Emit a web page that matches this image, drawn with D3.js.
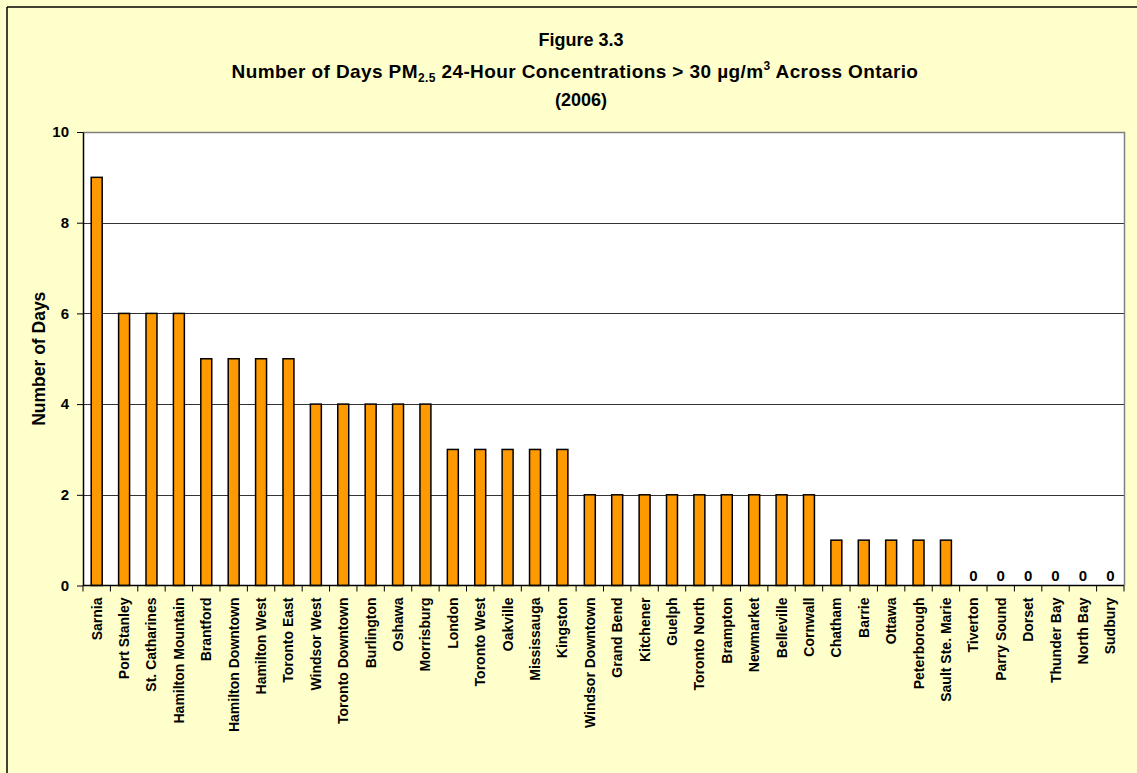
<!DOCTYPE html>
<html>
<head>
<meta charset="utf-8">
<script src="https://cdn.jsdelivr.net/npm/d3@7"></script>
<style>
  html, body { margin: 0; padding: 0; background: #FFFFCC; }
  svg { display: block; }
  text { font-family: "Liberation Sans", Arial, sans-serif; font-weight: bold; fill: #000; }
</style>
</head>
<body>
<svg id="chart" width="1137" height="773"></svg>
<script>
// Monitoring stations, ordered by number of exceedance days
const stations = [
  "Sarnia", "Port Stanley", "St. Catharines", "Hamilton Mountain", "Brantford",
  "Hamilton Downtown", "Hamilton West", "Toronto East", "Windsor West",
  "Toronto Downtown", "Burlington", "Oshawa", "Morrisburg", "London",
  "Toronto West", "Oakville", "Mississauga", "Kingston", "Windsor Downtown",
  "Grand Bend", "Kitchener", "Guelph", "Toronto North", "Brampton",
  "Newmarket", "Belleville", "Cornwall", "Chatham", "Barrie", "Ottawa",
  "Peterborough", "Sault Ste. Marie", "Tiverton", "Parry Sound", "Dorset",
  "Thunder Bay", "North Bay", "Sudbury"
];
// Days with PM2.5 24-hour concentration above 30 µg/m³ in 2006
const days = [
  9, 6, 6, 6, 5,
  5, 5, 5, 4,
  4, 4, 4, 4, 3,
  3, 3, 3, 3, 2,
  2, 2, 2, 2, 2,
  2, 2, 2, 1, 1, 1,
  1, 1, 0, 0, 0,
  0, 0, 0
];
const yTicks = [0, 2, 4, 6, 8, 10];

const svg = d3.select("#chart");

// outer frame (top and left edges)
svg.append("line").attr("x1", 7).attr("x2", 1137).attr("y1", 7).attr("y2", 7)
  .attr("stroke", "#000").attr("stroke-width", 1.5);
svg.append("line").attr("x1", 7).attr("x2", 7).attr("y1", 7).attr("y2", 773)
  .attr("stroke", "#000").attr("stroke-width", 1.5);

const plot = { left: 83, top: 132, right: 1124, bottom: 585.5 };

const x = d3.scaleBand().domain(stations).range([plot.left, plot.right])
  .paddingInner(0.6).paddingOuter(0.3);
const y = d3.scaleLinear().domain([0, 10]).range([plot.bottom, plot.top]);

// plot background
svg.append("rect")
  .attr("x", plot.left).attr("y", plot.top)
  .attr("width", plot.right - plot.left).attr("height", plot.bottom - plot.top)
  .attr("fill", "#fff");

// horizontal gridlines
svg.append("g").selectAll("line").data(yTicks.filter(d => d > 0 && d < 10)).join("line")
  .attr("x1", plot.left).attr("x2", plot.right)
  .attr("y1", d => Math.round(y(d)) + 0.5).attr("y2", d => Math.round(y(d)) + 0.5)
  .attr("stroke", "#333").attr("stroke-width", 1);

// plot border: top and right in grey
svg.append("path")
  .attr("d", `M${plot.left},${plot.top + 0.5}H${plot.right + 0.5}V${plot.bottom}`)
  .attr("fill", "none").attr("stroke", "#808080").attr("stroke-width", 1.5);

// bars
svg.append("g").selectAll("rect").data(stations).join("rect")
  .filter((d, i) => days[i] > 0)
  .attr("x", d => x(d))
  .attr("width", x.bandwidth())
  .attr("y", (d) => y(days[stations.indexOf(d)]))
  .attr("height", (d) => y(0) - y(days[stations.indexOf(d)]))
  .attr("fill", "#FF9900")
  .attr("stroke", "#000")
  .attr("stroke-width", 1.5);

// value labels for stations with zero days
svg.append("g").selectAll("text").data(stations.filter((d, i) => days[i] === 0)).join("text")
  .attr("x", d => x(d) + x.bandwidth() / 2)
  .attr("y", y(0) - 5)
  .attr("text-anchor", "middle")
  .attr("font-size", 15)
  .text(d => days[stations.indexOf(d)]);

// y axis
const yAxis = svg.append("g")
  .attr("transform", `translate(${plot.left},0)`)
  .call(d3.axisLeft(y).tickValues(yTicks).tickSize(6).tickSizeOuter(0).tickPadding(8));
yAxis.select(".domain").attr("stroke", "#000").attr("stroke-width", 1.5);
yAxis.selectAll(".tick line").attr("stroke", "#000");
yAxis.selectAll(".tick text").attr("font-size", 15)
  .attr("font-family", "Liberation Sans, Arial, sans-serif").attr("font-weight", "bold");

// x axis: ticks at category boundaries
const xAxisG = svg.append("g").attr("transform", `translate(0,${plot.bottom})`);
xAxisG.append("line").attr("x1", plot.left).attr("x2", plot.right)
  .attr("stroke", "#000").attr("stroke-width", 1.5);
const boundaries = d3.range(stations.length + 1).map(i => plot.left + i * (plot.right - plot.left) / stations.length);
xAxisG.selectAll("line.tk").data(boundaries).join("line").attr("class", "tk")
  .attr("x1", d => d).attr("x2", d => d).attr("y1", 0).attr("y2", 6)
  .attr("stroke", "#000");
xAxisG.selectAll("text").data(stations).join("text")
  .attr("transform", d => `translate(${x(d) + x.bandwidth() / 2 + 5},12) rotate(-90)`)
  .attr("text-anchor", "end")
  .attr("font-size", 14)
  .text(d => d);

// y axis title
svg.append("text")
  .attr("transform", `translate(45,${(plot.top + plot.bottom) / 2}) rotate(-90)`)
  .attr("text-anchor", "middle")
  .attr("font-size", 17.5)
  .text("Number of Days");

// chart title
const tx = 581;
svg.append("text").attr("x", tx).attr("y", 46).attr("text-anchor", "middle")
  .attr("font-size", 18).text("Figure 3.3");
const t2 = svg.append("text").attr("x", tx - 6).attr("y", 78).attr("text-anchor", "middle")
  .attr("font-size", 19).attr("letter-spacing", 0.4);
t2.append("tspan").text("Number of Days PM");
t2.append("tspan").attr("font-size", 12).attr("dy", 4).text("2.5");
t2.append("tspan").attr("dy", -4).text(" 24-Hour Concentrations > 30 µg/m");
t2.append("tspan").attr("font-size", 12).attr("dy", -8).text("3");
t2.append("tspan").attr("dy", 8).text(" Across Ontario");
svg.append("text").attr("x", tx).attr("y", 106).attr("text-anchor", "middle")
  .attr("font-size", 18).text("(2006)");
</script>
</body>
</html>
